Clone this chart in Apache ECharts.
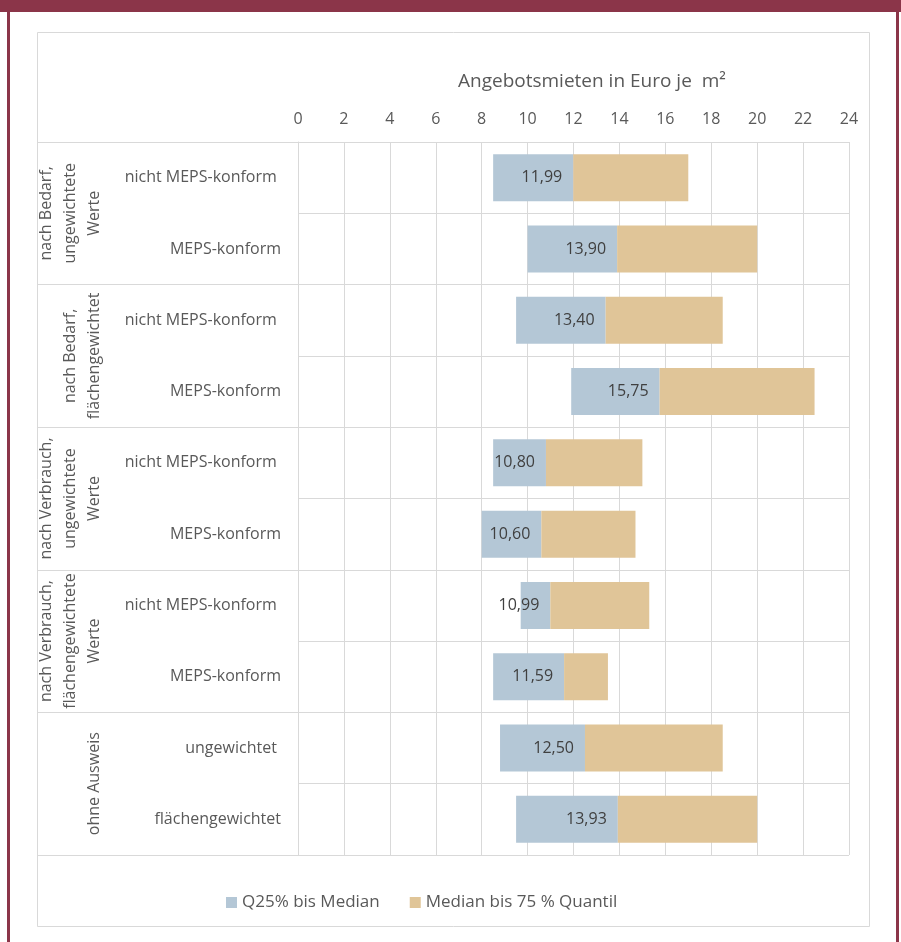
<!DOCTYPE html>
<html>
<head>
<meta charset="utf-8">
<script src="https://cdn.jsdelivr.net/npm/echarts@6/dist/echarts.min.js"></script>
<style>
  html, body { margin: 0; padding: 0; background: #ffffff; }
  #chart { width: 901px; height: 942px; }
</style>
</head>
<body>
<div id="chart"></div>
<script>
// Row labels (top to bottom)
const rowLabels = [
  'nicht MEPS-konform ', 'MEPS-konform',
  'nicht MEPS-konform ', 'MEPS-konform',
  'nicht MEPS-konform ', 'MEPS-konform',
  'nicht MEPS-konform ', 'MEPS-konform',
  'ungewichtet ', 'flächengewichtet'
];
// Group labels, each spanning two rows
const groupLabels = [
  'nach Bedarf,\nungewichtete\nWerte',
  'nach Bedarf,\nflächengewichtet',
  'nach Verbrauch,\nungewichtete\nWerte',
  'nach Verbrauch,\nflächengewichtete\nWerte',
  'ohne Ausweis'
];
// Asking rents in EUR per m²
const q25    = [8.5, 10.0, 9.5, 11.9, 8.5, 8.0, 9.7, 8.5, 8.8, 9.5];
const median = [11.99, 13.90, 13.40, 15.75, 10.80, 10.60, 10.99, 11.59, 12.50, 13.93];
const q75    = [17.0, 20.0, 18.5, 22.5, 15.0, 14.7, 15.3, 13.5, 18.5, 20.0];
const xTicks = { min: 0, max: 24, interval: 2 };

const seriesNames = ['Q25% bis Median', 'Median bis 75 % Quantil'];

const lowerSpan = median.map((m, i) => +(m - q25[i]).toFixed(2));
const upperSpan = q75.map((v, i) => +(v - median[i]).toFixed(2));

const gridColor = '#d9d9d9';
const textColor = '#595959';
const fontFamily = '"Open Sans", "Noto Sans", sans-serif';

const chart = echarts.init(document.getElementById('chart'), null, { renderer: 'canvas' });

chart.setOption({
  backgroundColor: '#ffffff',
  animation: false,
  textStyle: { fontFamily: fontFamily },
  title: {
    text: 'Angebotsmieten in Euro je  m²',
    left: 453,
    top: 67,
    textStyle: { color: textColor, fontSize: 19, fontWeight: 'normal', fontFamily: fontFamily }
  },
  legend: {
    data: seriesNames,
    left: 221,
    top: 889,
    itemWidth: 11,
    itemHeight: 11,
    itemGap: 30,
    icon: 'rect',
    textStyle: { color: textColor, fontSize: 17, fontFamily: fontFamily }
  },
  grid: { left: 298, right: 52, top: 142, bottom: 87, containLabel: false },
  xAxis: {
    type: 'value',
    position: 'top',
    min: xTicks.min,
    max: xTicks.max,
    interval: xTicks.interval,
    axisLine: { show: false },
    axisTick: { show: false },
    axisLabel: { color: textColor, fontSize: 16, margin: 15, fontFamily: fontFamily },
    splitLine: { show: true, lineStyle: { color: gridColor, width: 1 } }
  },
  yAxis: [
    {
      type: 'category',
      data: rowLabels,
      inverse: true,
      position: 'left',
      axisLine: { show: true, lineStyle: { color: gridColor } },
      axisTick: { show: false },
      axisLabel: { color: textColor, fontSize: 16, margin: 17, interval: 0, fontFamily: fontFamily },
      splitLine: { show: true, interval: 0, lineStyle: { color: gridColor, width: 1 } }
    },
    {
      type: 'category',
      data: groupLabels,
      inverse: true,
      position: 'left',
      offset: 0,
      axisLine: { show: false },
      axisTick: { show: true, interval: 0, length: 261, lineStyle: { color: gridColor, width: 1 } },
      axisLabel: {
        color: textColor, fontSize: 16, margin: 192, rotate: 90, interval: 0,
        lineHeight: 24, align: 'center', fontFamily: fontFamily
      },
      splitLine: { show: false }
    }
  ],
  series: [
    {
      name: 'base',
      type: 'bar',
      stack: 'range',
      yAxisIndex: 0,
      data: q25,
      barWidth: 47,
      itemStyle: { color: 'rgba(0,0,0,0)' },
      emphasis: { disabled: true },
      silent: true
    },
    {
      name: seriesNames[0],
      type: 'bar',
      stack: 'range',
      yAxisIndex: 0,
      data: lowerSpan,
      barWidth: 47,
      itemStyle: { color: '#b4c7d6' },
      label: {
        show: true,
        position: 'insideRight',
        distance: 11,
        color: '#404040',
        fontSize: 16,
        fontFamily: fontFamily,
        formatter: p => median[p.dataIndex].toFixed(2).replace('.', ',')
      }
    },
    {
      name: seriesNames[1],
      type: 'bar',
      stack: 'range',
      yAxisIndex: 0,
      data: upperSpan,
      barWidth: 47,
      itemStyle: { color: '#e0c598' }
    }
  ],
  graphic: [
    { type: 'rect', shape: { x: 0, y: 0, width: 901, height: 12 }, style: { fill: '#8b3549' }, silent: true },
    { type: 'rect', shape: { x: 7, y: 0, width: 3, height: 942 }, style: { fill: '#8b3549' }, silent: true },
    { type: 'rect', shape: { x: 896, y: 0, width: 3, height: 942 }, style: { fill: '#8b3549' }, silent: true },
    { type: 'rect', shape: { x: 37.5, y: 32.5, width: 832, height: 894 }, style: { fill: 'none', stroke: gridColor, lineWidth: 1 }, silent: true, z: -1 }
  ]
});
</script>
</body>
</html>
